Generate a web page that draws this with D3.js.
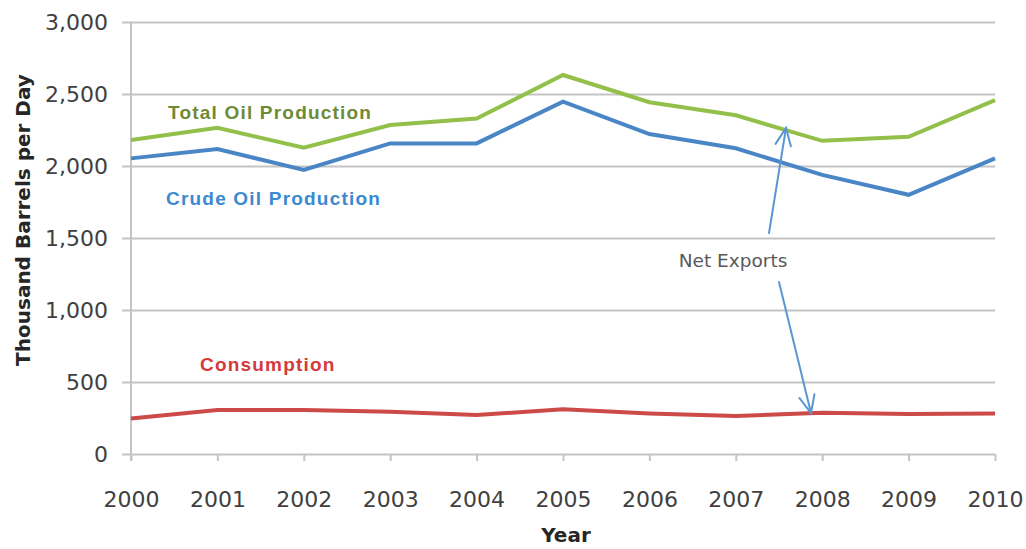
<!DOCTYPE html>
<html>
<head>
<meta charset="utf-8">
<script src="https://cdn.jsdelivr.net/npm/d3@7"></script>
<style>
  html, body { margin: 0; padding: 0; background: #ffffff; }
  svg { display: block; }
</style>
</head>
<body>
<svg id="chart" width="1026" height="549"></svg>
<script>
// Years on the x axis
const years = [2000, 2001, 2002, 2003, 2004, 2005, 2006, 2007, 2008, 2009, 2010];

// Thousand barrels per day
const totalOilProduction = [2180, 2265, 2127, 2285, 2330, 2632, 2443, 2352, 2175, 2203, 2458];
const crudeOilProduction = [2053, 2118, 1972, 2157, 2157, 2447, 2222, 2123, 1938, 1800, 2053];
const consumption        = [247, 306, 306, 294, 271, 311, 282, 264, 287, 278, 282];

// Y axis ticks
const yTicks = [0, 500, 1000, 1500, 2000, 2500, 3000];

const svg = d3.select("#chart");

const margin = { left: 131, right: 31, top: 22, bottom: 95 };
const width = 1026, height = 549;

const x = d3.scaleLinear()
  .domain([d3.min(years), d3.max(years)])
  .range([margin.left, width - margin.right]);

const y = d3.scaleLinear()
  .domain([0, 3000])
  .range([height - margin.bottom, margin.top]);

const gridColor = "#c4c4c4";
const textColor = "#404040";
const tickFont = "'DejaVu Sans', sans-serif";

// Y axis: grid lines run across the plot and stick out a little to the left
const yG = svg.append("g")
  .attr("transform", `translate(${margin.left},0)`)
  .call(d3.axisLeft(y)
    .tickValues(yTicks)
    .tickSizeInner(9)
    .tickSizeOuter(0)
    .tickPadding(14)
    .tickFormat(d3.format(",")));

yG.select(".domain").attr("stroke", gridColor).attr("stroke-width", 2)
  .attr("d", `M0,${y(3000)}V${y(0) + 7}`);
yG.selectAll(".tick line")
  .attr("stroke", gridColor)
  .attr("stroke-width", 2)
  .attr("x1", -9)
  .attr("x2", x.range()[1] - x.range()[0]);
yG.selectAll(".tick text")
  .attr("fill", textColor)
  .style("font-family", tickFont)
  .style("font-size", "22px");

// X axis
const xG = svg.append("g")
  .attr("transform", `translate(0,${y(0)})`)
  .call(d3.axisBottom(x)
    .tickValues(years)
    .tickFormat(d3.format("d"))
    .tickSizeInner(7)
    .tickSizeOuter(0)
    .tickPadding(30));

xG.select(".domain").remove();
xG.selectAll(".tick line").attr("stroke", gridColor).attr("stroke-width", 2);
xG.selectAll(".tick text")
  .attr("fill", textColor)
  .style("font-family", tickFont)
  .style("font-size", "22px");

// Axis titles
svg.append("text")
  .attr("x", 566)
  .attr("y", 542)
  .attr("text-anchor", "middle")
  .attr("fill", "#262626")
  .style("font-family", "'DejaVu Sans', sans-serif")
  .style("font-weight", "bold")
  .style("font-size", "20px")
  .text("Year");

svg.append("text")
  .attr("transform", `translate(30,220) rotate(-90)`)
  .attr("text-anchor", "middle")
  .attr("fill", "#262626")
  .style("font-family", "'DejaVu Sans', sans-serif")
  .style("font-weight", "bold")
  .style("font-size", "20px")
  .text("Thousand Barrels per Day");

// Series lines
const series = [
  { name: "Total Oil Production", values: totalOilProduction, color: "#92c04a" },
  { name: "Crude Oil Production", values: crudeOilProduction, color: "#4a86c6" },
  { name: "Consumption",          values: consumption,        color: "#cc4a47" }
];

const line = d3.line()
  .x((d, i) => x(years[i]))
  .y(d => y(d));

svg.append("g")
  .selectAll("path")
  .data(series)
  .join("path")
  .attr("d", d => line(d.values))
  .attr("fill", "none")
  .attr("stroke", d => d.color)
  .attr("stroke-width", 4)
  .attr("stroke-linejoin", "miter");

// Series labels
const labels = [
  { text: "Total Oil Production", x: 168, y: 119, color: "#6f8a35" },
  { text: "Crude Oil Production", x: 166, y: 205, color: "#3b8ad0" },
  { text: "Consumption",          x: 200, y: 371, color: "#d6393a" }
];

svg.append("g")
  .selectAll("text")
  .data(labels)
  .join("text")
  .attr("x", d => d.x)
  .attr("y", d => d.y)
  .attr("fill", d => d.color)
  .style("font-family", "'Liberation Sans', Arial, sans-serif")
  .style("font-weight", "bold")
  .style("font-size", "19px")
  .style("letter-spacing", "1.2px")
  .text(d => d.text);

// Net exports annotation
svg.append("text")
  .attr("x", 733)
  .attr("y", 267)
  .attr("text-anchor", "middle")
  .attr("fill", "#595959")
  .style("font-family", "'DejaVu Sans', sans-serif")
  .style("font-size", "18.5px")
  .text("Net Exports");

const arrowColor = "#5a96d4";

// Arrow up to total production between 2007 and 2008
const upTail = [769, 233], upTip = [786, 128];
// Arrow down to consumption in 2008
const downTail = [779, 282], downTip = [811, 413];

function arrow(tail, tip) {
  const ang = Math.atan2(tip[1] - tail[1], tip[0] - tail[0]);
  const len = 19, spread = 0.42;
  const w1 = [tip[0] - len * Math.cos(ang - spread), tip[1] - len * Math.sin(ang - spread)];
  const w2 = [tip[0] - len * Math.cos(ang + spread), tip[1] - len * Math.sin(ang + spread)];
  const g = svg.append("g")
    .attr("stroke", arrowColor)
    .attr("stroke-width", 2)
    .attr("fill", "none")
    .attr("stroke-linecap", "round");
  g.append("path").attr("d", `M${tail[0]},${tail[1]}L${tip[0]},${tip[1]}`);
  g.append("path").attr("d", `M${w1[0]},${w1[1]}L${tip[0]},${tip[1]}L${w2[0]},${w2[1]}`);
}

arrow(upTail, upTip);
arrow(downTail, downTip);
</script>
</body>
</html>
